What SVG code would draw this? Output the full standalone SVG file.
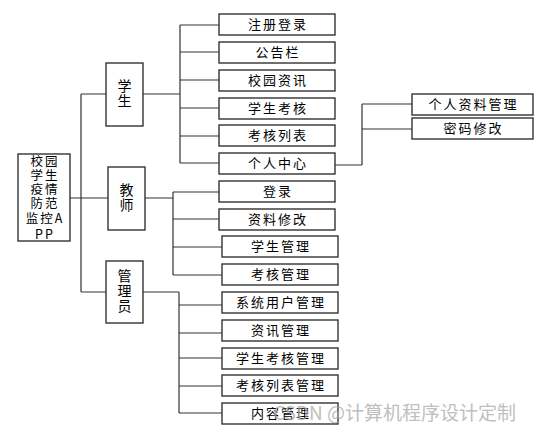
<svg xmlns="http://www.w3.org/2000/svg" width="539" height="433" viewBox="0 0 539 433">
<style>
.b{fill:#fff;stroke:#333;stroke-width:1.4}
.t{font-family:"Noto Sans CJK SC","Liberation Sans",sans-serif;font-size:13px;fill:#000;text-anchor:middle;letter-spacing:2px}
.v{font-family:"Noto Sans CJK SC","Liberation Sans",sans-serif;font-size:14px;fill:#000;text-anchor:middle}
.r{font-family:"Noto Sans CJK SC","Liberation Sans",sans-serif;font-size:12.5px;fill:#000;text-anchor:middle;letter-spacing:2px}
.c{fill:none;stroke:#333;stroke-width:1.2}
.w{font-family:"Noto Sans CJK SC","Liberation Sans",sans-serif;font-size:19px;fill:#aaa;opacity:0.75}
</style>
<rect width="539" height="433" fill="#fff"/>
<g id="connectors" class="c">
<path d="M70 198H108M81 94V292M81 94H106M81 292H106"/>
<path d="M143 94H180M180 25V163M180 25H219M180 52H219M180 80H219M180 108H219M180 136H219M180 163H219"/>
<path d="M335 165H362M362 104V165M362 104H412M362 129H412"/>
<path d="M145 198H173M173 192V275M173 192H219M173 219H219M173 247H222M173 275H222"/>
<path d="M143 292H179M179 292V413M179 305H222M179 333H222M179 358H222M179 386H222M179 413H222"/>
</g>
<g id="root"><rect class="b" x="18" y="154" width="52" height="87"/>
<text class="r"><tspan x="45" y="166">校园</tspan><tspan x="45" y="180">学生</tspan><tspan x="45" y="194">疫情</tspan><tspan x="45" y="208">防范</tspan><tspan x="45" y="223">监控A</tspan><tspan x="45" y="239">PP</tspan></text></g>
<g id="student"><rect class="b" x="106" y="63" width="37" height="63"/><text class="v"><tspan x="124.5" y="91">学</tspan><tspan x="124.5" y="106">生</tspan></text></g>
<g id="teacher"><rect class="b" x="108" y="167" width="37" height="63"/><text class="v"><tspan x="126.5" y="195">教</tspan><tspan x="126.5" y="210">师</tspan></text></g>
<g id="admin"><rect class="b" x="106" y="261" width="37" height="62"/><text class="v"><tspan x="124.5" y="281">管</tspan><tspan x="124.5" y="296">理</tspan><tspan x="124.5" y="311">员</tspan></text></g>
<g id="s1"><rect class="b" x="219" y="14" width="116" height="21"/><text class="t" x="278" y="29">注册登录</text></g>
<g id="s2"><rect class="b" x="219" y="42" width="116" height="21"/><text class="t" x="278" y="57">公告栏</text></g>
<g id="s3"><rect class="b" x="219" y="70" width="116" height="21"/><text class="t" x="278" y="85">校园资讯</text></g>
<g id="s4"><rect class="b" x="219" y="98" width="116" height="21"/><text class="t" x="278" y="113">学生考核</text></g>
<g id="s5"><rect class="b" x="219" y="125" width="116" height="21"/><text class="t" x="278" y="140">考核列表</text></g>
<g id="s6"><rect class="b" x="219" y="153" width="116" height="21"/><text class="t" x="278" y="168">个人中心</text></g>
<g id="p1"><rect class="b" x="412" y="94" width="121" height="21"/><text class="t" x="473.5" y="109">个人资料管理</text></g>
<g id="p2"><rect class="b" x="412" y="118" width="121" height="21"/><text class="t" x="473.5" y="133">密码修改</text></g>
<g id="t1"><rect class="b" x="219" y="181" width="116" height="21"/><text class="t" x="278" y="196">登录</text></g>
<g id="t2"><rect class="b" x="219" y="209" width="116" height="21"/><text class="t" x="278" y="224">资料修改</text></g>
<g id="t3"><rect class="b" x="222" y="236" width="116" height="21"/><text class="t" x="281" y="251">学生管理</text></g>
<g id="t4"><rect class="b" x="222" y="264" width="116" height="21"/><text class="t" x="281" y="279">考核管理</text></g>
<g id="a1"><rect class="b" x="222" y="292" width="116" height="21"/><text class="t" x="281" y="307">系统用户管理</text></g>
<g id="a2"><rect class="b" x="222" y="320" width="116" height="21"/><text class="t" x="281" y="335">资讯管理</text></g>
<g id="a3"><rect class="b" x="222" y="348" width="116" height="21"/><text class="t" x="281" y="363">学生考核管理</text></g>
<g id="a4"><rect class="b" x="222" y="375" width="116" height="21"/><text class="t" x="281" y="390">考核列表管理</text></g>
<g id="a5"><rect class="b" x="222" y="403" width="116" height="21"/><text class="t" x="281" y="418">内容管理</text></g>
<text class="w" x="273" y="420">CSDN @计算机程序设计定制</text>
</svg>
